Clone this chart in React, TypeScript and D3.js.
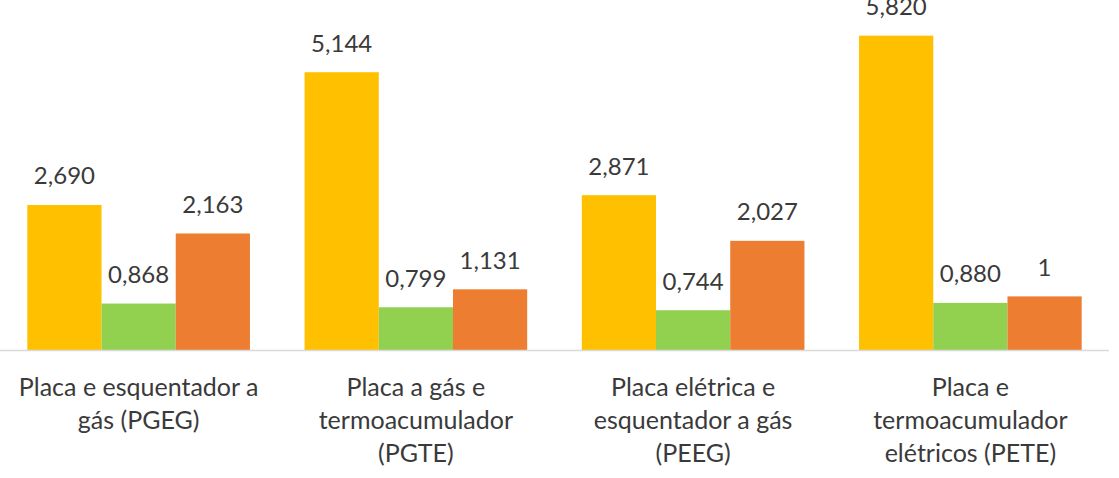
import React from "react";
import * as d3 from "d3";

const categories: string[][] = [
  ["Placa e esquentador a", "gás (PGEG)"],
  ["Placa a gás e", "termoacumulador", "(PGTE)"],
  ["Placa elétrica e", "esquentador a gás", "(PEEG)"],
  ["Placa e", "termoacumulador", "elétricos (PETE)"],
];
const categoryKeys = ["PGEG", "PGTE", "PEEG", "PETE"];
const seriesNames = ["Série 1", "Série 2", "Série 3"];
const series1 = [2.69, 5.144, 2.871, 5.82];
const series2 = [0.868, 0.799, 0.744, 0.88];
const series3 = [2.163, 1.131, 2.027, 1];
const seriesColors = ["#FFC000", "#92D050", "#ED7D31"];

const W = 1119;
const H = 478;
const baseY = 350.5;
const plotLeft = 0;
const plotRight = 1109;

function fmt(v: number): string {
  if (Number.isInteger(v)) return String(v);
  return v.toFixed(3).replace(".", ",");
}

export default function App() {
  const allSeries = [series1, series2, series3];
  const x0 = d3
    .scaleBand<string>()
    .domain(categoryKeys)
    .range([plotLeft, plotRight])
    .paddingInner(0.197)
    .paddingOuter(0.0985);
  const x1 = d3
    .scaleBand<string>()
    .domain(seriesNames)
    .range([0, x0.bandwidth()])
    .padding(0);
  const y = d3.scaleLinear().domain([0, 6]).range([baseY, baseY - 6 * 54.1]);

  const font = "Lato, 'Open Sans', sans-serif";
  const textColor = "#3a3a3a";

  return (
    <svg
      width={W}
      height={H}
      style={{ position: "absolute", left: 0, top: 0, background: "#fff" }}
    >
      <rect x={0} y={0} width={W} height={H} fill="#fff" />
      {categoryKeys.map((c, ci) => (
        <g key={c} transform={`translate(${x0(c)},0)`}>
          {seriesNames.map((s, si) => {
            const v = allSeries[si][ci];
            const bx = x1(s) as number;
            const bw = x1.bandwidth();
            return (
              <g key={s}>
                <rect
                  x={bx}
                  y={y(v)}
                  width={bw}
                  height={baseY - y(v)}
                  fill={seriesColors[si]}
                />
                <text
                  x={bx + bw / 2}
                  y={y(v) - 20.5}
                  textAnchor="middle"
                  fontFamily={font}
                  fontSize={24}
                  fill={textColor}
                >
                  {fmt(v)}
                </text>
              </g>
            );
          })}
        </g>
      ))}
      <line
        x1={plotLeft}
        x2={plotRight}
        y1={baseY}
        y2={baseY}
        stroke="#D9D9D9"
        strokeWidth={1.5}
      />
      {categoryKeys.map((c, ci) => (
        <text
          key={c}
          x={(x0(c) as number) + x0.bandwidth() / 2}
          textAnchor="middle"
          fontFamily={font}
          fontSize={25}
          fill={textColor}
        >
          {categories[ci].map((line, li) => (
            <tspan key={li} x={(x0(c) as number) + x0.bandwidth() / 2} y={396 + li * 33}>
              {line}
            </tspan>
          ))}
        </text>
      ))}
    </svg>
  );
}
